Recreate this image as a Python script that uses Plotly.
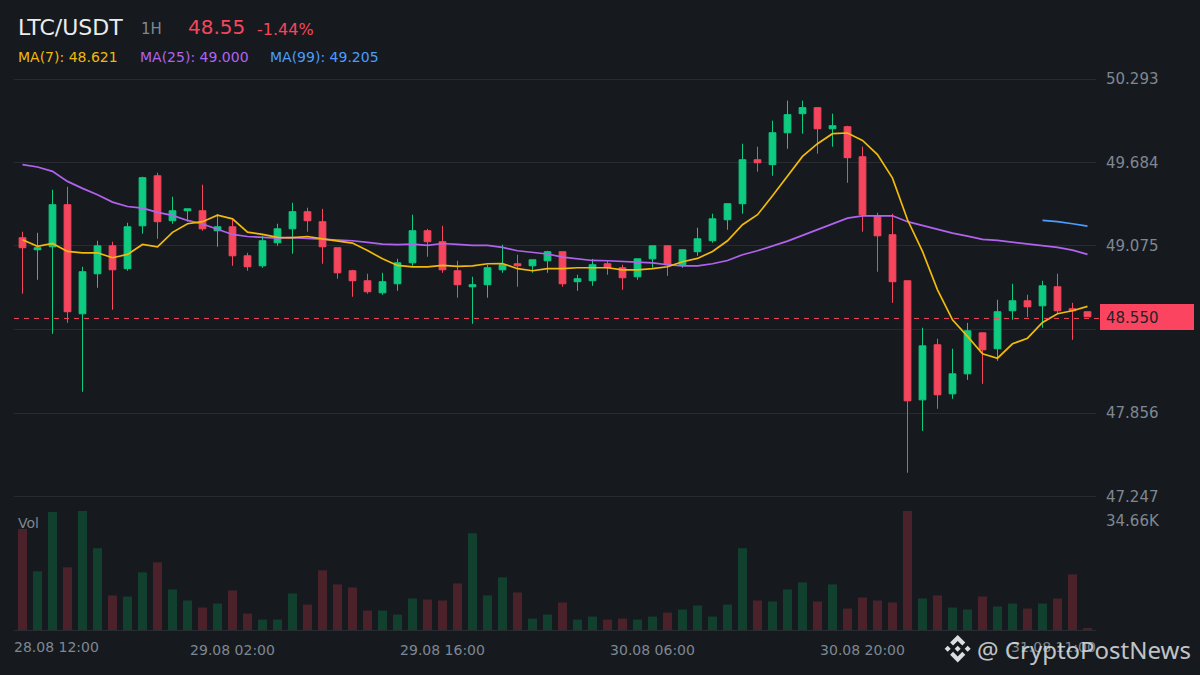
import plotly.graph_objects as go

W = 1200
H = 675

BG = '#161a1e'
GRID = '#282b30'
GREY = '#7f8793'
UP = '#0ecb81'
DOWN = '#f6465d'
UP_VOL = '#12402f'
DOWN_VOL = '#4b212a'
MA7_COLOR = '#f0b90b'
MA25_COLOR = '#b163f0'
MA99_COLOR = '#4a9dff'

opens = [49.135, 49.047, 49.069, 49.376, 48.580, 48.872, 49.076, 48.909, 49.222, 49.587,
         49.259, 49.332, 49.332, 49.186, 49.215, 49.003, 48.930, 49.098, 49.200, 49.325,
         49.252, 49.062, 48.894, 48.821, 48.733, 48.799, 48.952, 49.186, 49.106, 48.894,
         48.777, 48.792, 48.901, 48.945, 48.930, 48.967, 49.033, 48.814, 48.821, 48.945,
         48.916, 48.850, 48.981, 49.076, 48.938, 49.033, 49.113, 49.266, 49.383, 49.704,
         49.668, 49.901, 50.040, 50.084, 49.930, 49.945, 49.726, 49.295, 49.157, 48.821,
         47.952, 48.354, 47.996, 48.142, 48.441, 48.325, 48.602, 48.675, 48.638, 48.777,
         48.617, 48.595]
closes = [49.062, 49.062, 49.376, 48.595, 48.887, 49.076, 48.901, 49.215, 49.573, 49.252,
          49.332, 49.346, 49.200, 49.215, 49.003, 48.923, 49.113, 49.200, 49.325, 49.259,
          49.069, 48.879, 48.821, 48.741, 48.814, 48.952, 49.186, 49.106, 48.901, 48.792,
          48.792, 48.916, 48.938, 48.930, 48.974, 49.033, 48.799, 48.836, 48.938, 48.916,
          48.843, 48.981, 49.076, 48.938, 49.047, 49.127, 49.273, 49.383, 49.704, 49.682,
          49.901, 50.033, 50.084, 49.930, 49.952, 49.719, 49.303, 49.149, 48.814, 47.945,
          48.346, 47.989, 48.142, 48.456, 48.317, 48.595, 48.675, 48.631, 48.784, 48.602,
          48.602, 48.558]
highs = [49.179, 49.171, 49.485, 49.507, 48.923, 49.113, 49.106, 49.244, 49.580, 49.609,
         49.434, 49.346, 49.522, 49.308, 49.266, 49.025, 49.149, 49.237, 49.390, 49.354,
         49.346, 49.062, 48.901, 48.872, 48.879, 48.981, 49.303, 49.200, 49.222, 48.967,
         48.850, 48.938, 49.084, 49.011, 48.974, 49.040, 49.033, 48.865, 48.981, 48.967,
         48.938, 48.981, 49.076, 49.076, 49.047, 49.208, 49.310, 49.383, 49.821, 49.799,
         49.989, 50.135, 50.135, 50.084, 50.040, 49.952, 49.799, 49.317, 49.310, 48.821,
         48.478, 48.398, 48.325, 48.514, 48.441, 48.682, 48.799, 48.719, 48.821, 48.872,
         48.660, 48.595]
lows = [48.726, 48.828, 48.434, 48.514, 48.011, 48.770, 48.609, 48.894, 49.164, 49.127,
        49.237, 49.252, 49.186, 49.069, 48.930, 48.894, 48.916, 49.076, 49.018, 49.179,
        48.945, 48.836, 48.704, 48.726, 48.719, 48.748, 48.930, 48.996, 48.879, 48.697,
        48.507, 48.697, 48.879, 48.777, 48.879, 48.879, 48.777, 48.748, 48.784, 48.865,
        48.755, 48.828, 48.916, 48.857, 48.916, 49.003, 49.098, 49.193, 49.310, 49.617,
        49.587, 49.784, 49.894, 49.748, 49.799, 49.536, 49.179, 48.887, 48.660, 47.420,
        47.726, 47.887, 47.960, 48.098, 48.069, 48.237, 48.536, 48.556, 48.478, 48.580,
        48.390, 48.558]

ma7 = [49.120, 49.072, 49.093, 49.035, 49.025, 49.025, 48.989, 49.013, 49.086, 49.069,
       49.174, 49.237, 49.252, 49.300, 49.273, 49.176, 49.159, 49.137, 49.135, 49.144,
       49.127, 49.110, 49.096, 49.042, 48.981, 48.933, 48.923, 48.923, 48.933, 48.926,
       48.930, 48.945, 48.947, 48.909, 48.894, 48.909, 48.909, 48.916, 48.916, 48.916,
       48.901, 48.901, 48.909, 48.923, 48.960, 48.984, 49.035, 49.113, 49.230, 49.303,
       49.441, 49.587, 49.728, 49.821, 49.894, 49.899, 49.845, 49.741, 49.570, 49.266,
       49.035, 48.755, 48.536, 48.415, 48.288, 48.256, 48.361, 48.402, 48.517, 48.580,
       48.602, 48.634]
ma25 = [49.668, 49.651, 49.619, 49.546, 49.495, 49.449, 49.395, 49.363, 49.351, 49.320,
        49.298, 49.261, 49.235, 49.198, 49.159, 49.144, 49.137, 49.132, 49.135, 49.130,
        49.123, 49.120, 49.113, 49.101, 49.089, 49.084, 49.089, 49.079, 49.093, 49.086,
        49.079, 49.079, 49.064, 49.040, 49.028, 49.016, 48.994, 48.981, 48.969, 48.967,
        48.962, 48.960, 48.952, 48.938, 48.930, 48.930, 48.945, 48.969, 49.011, 49.040,
        49.074, 49.110, 49.152, 49.193, 49.237, 49.278, 49.295, 49.295, 49.295, 49.252,
        49.225, 49.193, 49.169, 49.147, 49.123, 49.115, 49.103, 49.086, 49.079, 49.064,
        49.045, 49.013]
ma99_idx = [68, 69, 70, 71]
ma99 = [49.261, 49.252, 49.237, 49.220]

volumes = [29.39, 17.09, 34.37, 18.26, 34.66, 23.82, 10.06, 9.76, 16.79, 19.72,
           11.81, 8.59, 6.54, 7.71, 11.52, 4.78, 3.03, 3.03, 10.64, 7.42,
           17.38, 13.28, 12.40, 5.66, 5.66, 4.49, 9.18, 8.88, 8.59, 13.57,
           28.21, 10.06, 15.33, 10.93, 3.32, 4.49, 8.01, 3.03, 3.91, 3.03,
           3.32, 3.03, 3.91, 5.08, 5.96, 7.13, 3.91, 7.42, 23.82, 8.59,
           8.30, 11.81, 13.86, 8.30, 13.28, 6.25, 9.47, 8.59, 8.01, 34.66,
           9.18, 10.06, 6.54, 5.96, 9.76, 6.83, 7.71, 6.25, 7.71, 9.18,
           16.21, 0.39]

price_ticks = [50.293, 49.684, 49.075, 48.466, 47.856, 47.247]
price_tick_text = ['50.293', '49.684', '49.075', '', '47.856', '47.247']
time_ticks = [14, 28, 42, 56]
time_tick_text = ['29.08 02:00', '29.08 16:00', '30.08 06:00', '30.08 20:00']
last_price = 48.546

idx = list(range(len(opens)))
vol_colors = [UP_VOL if c >= o else DOWN_VOL for o, c in zip(opens, closes)]


def px(x):
    return x / W


def py(y):
    return 1 - y / H


def polygon(points, cx=957.7, cy=648.7):
    path = 'M' + ' L'.join(f'{px(cx + a)},{py(cy - b)}' for a, b in points) + ' Z'
    return dict(type='path', xref='paper', yref='paper', path=path,
                fillcolor='#dcdee0', line_width=0, layer='above')


def label(text, x, y, size, color, family='DejaVu Sans', xanchor='left'):
    return dict(text=text, x=px(x), y=py(y), xref='paper', yref='paper', showarrow=False,
                xanchor=xanchor, yanchor='middle', borderpad=0, borderwidth=0, align='left',
                font=dict(family=family, size=size, color=color))


fig = go.Figure()

fig.add_trace(go.Candlestick(
    x=idx, open=opens, high=highs, low=lows, close=closes,
    increasing=dict(line=dict(color=UP, width=1), fillcolor=UP),
    decreasing=dict(line=dict(color=DOWN, width=1), fillcolor=DOWN),
    whiskerwidth=0, xaxis='x', yaxis='y', showlegend=False,
))
fig.add_trace(go.Scatter(x=idx, y=ma25, mode='lines', line=dict(color=MA25_COLOR, width=1.7),
                         xaxis='x', yaxis='y', showlegend=False))
fig.add_trace(go.Scatter(x=idx, y=ma7, mode='lines', line=dict(color=MA7_COLOR, width=1.7),
                         xaxis='x', yaxis='y', showlegend=False))
fig.add_trace(go.Scatter(x=ma99_idx, y=ma99, mode='lines', line=dict(color=MA99_COLOR, width=1.7),
                         xaxis='x', yaxis='y', showlegend=False))
fig.add_trace(go.Bar(x=idx, y=volumes, marker=dict(color=vol_colors, line_width=0), width=0.6,
                     xaxis='x2', yaxis='y2', showlegend=False))

x_range = [-0.567, 71.567]
x_domain = [px(14), px(1096)]

shapes = [
    # current price line and its label box
    dict(type='line', xref='paper', yref='y', x0=px(14), x1=px(1100), y0=last_price, y1=last_price,
         line=dict(color=DOWN, width=1, dash='5px,5px'), layer='above'),
    dict(type='rect', xref='paper', yref='paper', x0=px(1100), x1=px(1194), y0=py(330), y1=py(304),
         fillcolor='#fb4560', line_width=0, layer='above'),
    # watermark logo
    polygon([(0, 13.7), (7.6, 6.1), (4.6, 3.1), (0, 7.7), (-4.6, 3.1), (-7.6, 6.1)]),
    polygon([(0, -13.7), (7.6, -6.1), (4.6, -3.1), (0, -7.7), (-4.6, -3.1), (-7.6, -6.1)]),
    polygon([(0, 3), (3, 0), (0, -3), (-3, 0)]),
    polygon([(-10, 3), (-7, 0), (-10, -3), (-13, 0)]),
    polygon([(10, 3), (13, 0), (10, -3), (7, 0)]),
]

annotations = [
    label('LTC/USDT', 18, 27, 22, '#eaecef'),
    label('1H', 141, 29.5, 15, GREY),
    label('48.55', 188, 27, 20, DOWN),
    label('-1.44%', 257, 29, 16, DOWN),
    label('MA(7): 48.621', 18, 57.5, 14, MA7_COLOR),
    label('MA(25): 49.000', 140, 57.5, 14, MA25_COLOR),
    label('MA(99): 49.205', 270, 57.5, 14, MA99_COLOR),
    label('48.550', 1106, 318, 15, '#1e2329'),
    label('Vol', 18, 523, 14, GREY),
    label('34.66K', 1106, 520.5, 15, GREY),
    label('28.08 12:00', 14, 646.5, 14, GREY),
    label('31.08 11:00', 1096, 646.5, 14, GREY, xanchor='right'),
    label('@ CryptoPostNews', 977, 649, 24, 'rgba(225,228,230,0.85)', family='Noto Sans'),
]

fig.update_layout(
    width=W,
    height=H,
    autosize=False,
    margin=dict(l=0, r=0, t=0, b=0, pad=0, autoexpand=False),
    paper_bgcolor=BG,
    plot_bgcolor=BG,
    font=dict(family='DejaVu Sans', color=GREY),
    boxgap=0.36,
    bargap=0.4,
    hovermode=False,
    showlegend=False,
    shapes=shapes,
    annotations=annotations,
    xaxis=dict(domain=x_domain, range=x_range, anchor='y', showgrid=False, zeroline=False,
               showticklabels=False, ticks='', rangeslider=dict(visible=False)),
    # range runs a little past the outer ticks so their gridlines get drawn
    yaxis=dict(domain=[py(498.5), py(77)], range=[47.2324, 50.3076], side='right', anchor='x',
               tickvals=price_ticks, ticktext=price_tick_text, showgrid=True, gridcolor=GRID,
               gridwidth=1, zeroline=False, ticks='', ticklabelstandoff=9,
               tickfont=dict(family='DejaVu Sans', size=15, color=GREY)),
    xaxis2=dict(domain=x_domain, range=x_range, anchor='y2', showgrid=False, zeroline=False,
                tickvals=time_ticks, ticktext=time_tick_text, ticks='', ticklabelstandoff=7,
                showline=True, linecolor=GRID, linewidth=1,
                tickfont=dict(family='DejaVu Sans', size=14, color=GREY)),
    yaxis2=dict(domain=[py(630), py(511)], range=[0, 34.66], side='right', anchor='x2',
                showgrid=False, zeroline=False, showticklabels=False, ticks=''),
)

# default page margin would push the figure off the 1200x675 window
fig.write_html("out.html", config=dict(displayModeBar=False),
               post_script="document.body.style.margin='0';")
